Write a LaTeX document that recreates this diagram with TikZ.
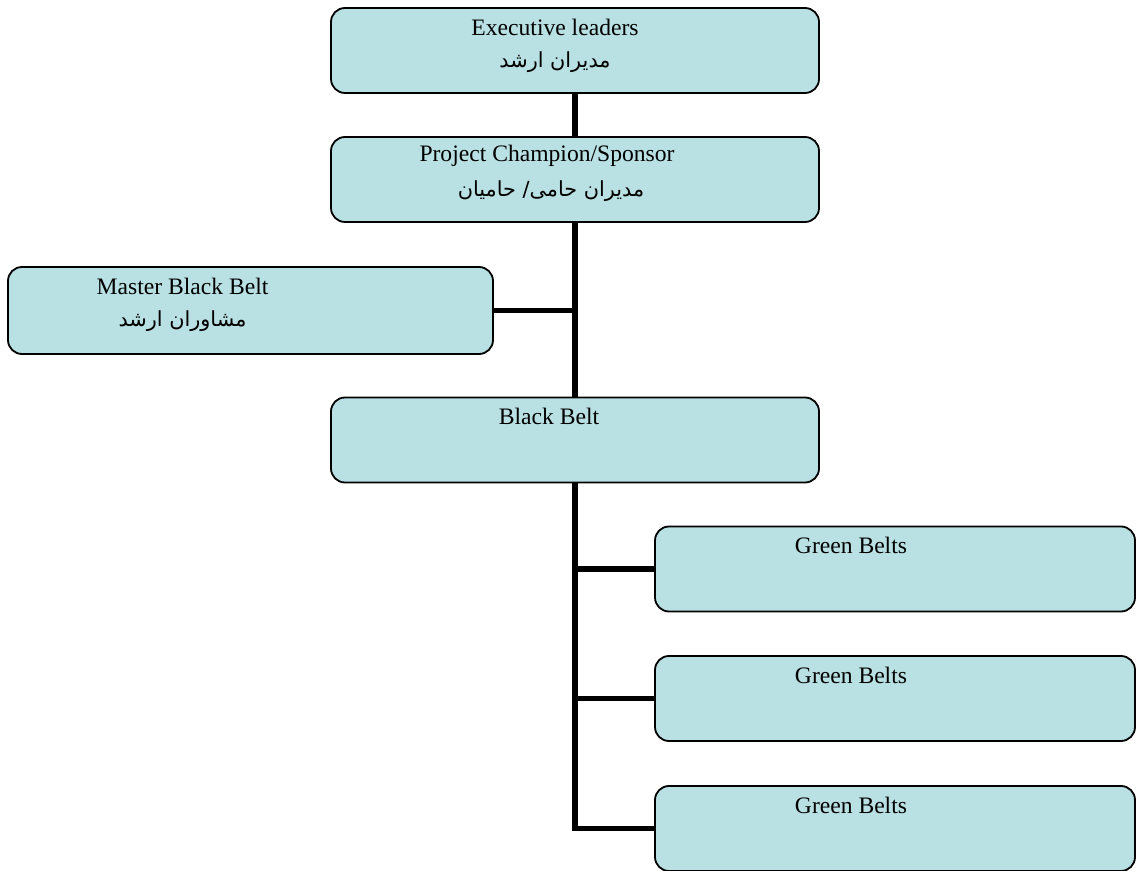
\documentclass[tikz,border=0pt]{standalone}
\usepackage{fontspec}
\setmainfont{Liberation Serif}
\newfontfamily\persianfont[Script=Arabic]{DejaVu Sans}
\TeXXeTstate=1
\usetikzlibrary{positioning}
\definecolor{boxblue}{RGB}{185,224,227}

\begin{document}
\begin{tikzpicture}[
            x = 0.5pt, % one unit is one pixel of the chart
            y = -0.5pt, % y runs downwards
            every node/.style = {font = \fontsize{11.8}{14}\selectfont}
        ]

        \tikzstyle{box}=[
            draw = black,
            line width = 0.9pt,
            fill = boxblue,
            rounded corners = 7pt,
            minimum width = 244pt,
            minimum height = 42.5pt,
            inner sep = 0pt
        ]
        \tikzstyle{link}=[line width = 2.8pt]
        \tikzstyle{title}=[inner sep = 0pt]
        \tikzstyle{farsi}=[inner sep = 0pt, font = \fontsize{10.4}{12}\persianfont]

        \useasboundingbox (0,0) rectangle (1136,871);

	% boxes
	\node[box] (exec) at (575,50.5) {};
	\node[box] (champ) at (575,179.5) {};
	\node[box, minimum width = 242.5pt, minimum height = 43.5pt] (master) at (250.5,310.5) {};
	\node[box] (black) at (575,440) {};
	\node[box, minimum width = 240pt] (green1) at (895,569) {};
	\node[box, minimum width = 240pt] (green2) at (895,698.5) {};
	\node[box, minimum width = 240pt] (green3) at (895,828.5) {};

	% texts
	\node[title] (exec-en) at ([xshift=-10pt, yshift=-10pt]exec.north) {Executive leaders};
	\node[farsi] (exec-fa) at ([xshift=-10pt, yshift=-27.5pt]exec.north) {\beginR مدیران ارشد\endR};
	\node[title] (champ-en) at ([xshift=-14pt, yshift=-10pt]champ.north) {Project Champion/Sponsor};
	\node[farsi] (champ-fa) at ([xshift=-12pt, yshift=-27.5pt]champ.north) {\beginR مدیران حامی/ حامیان\endR};
	\node[title] (master-en) at ([xshift=-34pt, yshift=-10pt]master.north) {Master Black Belt};
	\node[farsi] (master-fa) at ([xshift=-34pt, yshift=-27.5pt]master.north) {\beginR مشاوران ارشد\endR};
	\node[title] (black-en) at ([xshift=-13pt, yshift=-10pt]black.north) {Black Belt};
	\node[title] (green1-en) at ([xshift=-22pt, yshift=-10pt]green1.north) {Green Belts};
	\node[title] (green2-en) at ([xshift=-22pt, yshift=-10pt]green2.north) {Green Belts};
	\node[title] (green3-en) at ([xshift=-22pt, yshift=-10pt]green3.north) {Green Belts};

	% connectors
        \draw[link] (exec.south) -- (champ.north);
        \draw[link] (champ.south) -- (black.north);
        \draw[link] (master.east) -- (master.east -| champ.south);
        \draw[link] (black.south) |- (green3.west);
        \draw[link] (green1.west) -- (green1.west -| black.south);
        \draw[link] (green2.west) -- (green2.west -| black.south);

    \end{tikzpicture}
\end{document}
